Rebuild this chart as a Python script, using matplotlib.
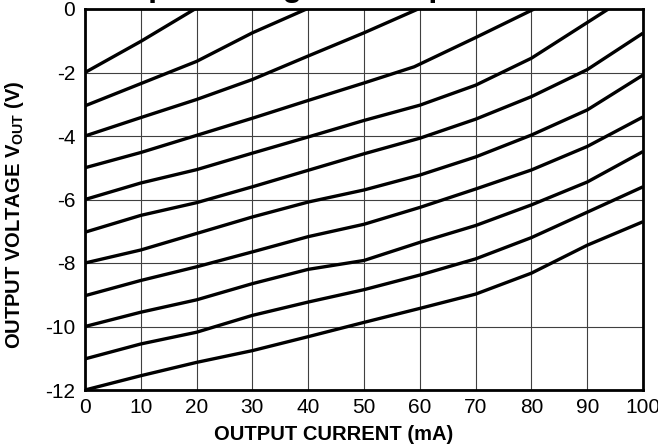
import matplotlib
matplotlib.use("Agg")
import matplotlib.pyplot as plt

plt.rcParams['font.family'] = ['Liberation Sans', 'DejaVu Sans']
plt.rcParams['mathtext.fontset'] = 'custom'
plt.rcParams['mathtext.bf'] = 'Liberation Sans:bold'
plt.rcParams['mathtext.rm'] = 'Liberation Sans'

# datos (corriente en mA, tension en V)
current_a = [0, 10, 19.7]
vout_a = [-2.0, -1.02, 0.0]

current_b = [0, 10, 20, 30, 39.7]
vout_b = [-3.05, -2.35, -1.65, -0.75, 0.0]

current_c = [0, 10, 20, 30, 40, 50, 59.7]
vout_c = [-4.0, -3.42, -2.85, -2.22, -1.48, -0.75, 0.0]

current_d = [0, 10, 20, 30, 40, 50, 59, 70, 80.5]
vout_d = [-5.0, -4.52, -3.98, -3.44, -2.88, -2.33, -1.82, -0.9, 0.0]

current_e = [0, 10, 20, 30, 40, 50, 60, 70, 80, 93.8]
vout_e = [-6.0, -5.48, -5.06, -4.54, -4.03, -3.51, -3.03, -2.4, -1.55, 0.0]

current_full = [0, 10, 20, 30, 40, 50, 60, 70, 80, 90, 100]
vout_f = [-7.03, -6.5, -6.1, -5.6, -5.08, -4.56, -4.07, -3.47, -2.76, -1.91, -0.76]
vout_g = [-8.0, -7.59, -7.07, -6.55, -6.08, -5.7, -5.23, -4.66, -3.97, -3.18, -2.08]
vout_h = [-9.03, -8.55, -8.12, -7.65, -7.17, -6.78, -6.25, -5.67, -5.07, -4.33, -3.4]
vout_i = [-10.0, -9.55, -9.16, -8.65, -8.2, -7.92, -7.35, -6.82, -6.17, -5.45, -4.49]
vout_j = [-11.02, -10.55, -10.18, -9.65, -9.23, -8.84, -8.38, -7.87, -7.2, -6.4, -5.6]
vout_k = [-12.0, -11.55, -11.13, -10.76, -10.32, -9.87, -9.43, -8.98, -8.32, -7.44, -6.7]

x_ticks = [0, 10, 20, 30, 40, 50, 60, 70, 80, 90, 100]
y_ticks = [0, -2, -4, -6, -8, -10, -12]

curvas = [
    (current_a, vout_a), (current_b, vout_b), (current_c, vout_c),
    (current_d, vout_d), (current_e, vout_e),
    (current_full, vout_f), (current_full, vout_g), (current_full, vout_h),
    (current_full, vout_i), (current_full, vout_j), (current_full, vout_k),
]

W, H = 658, 447
fig = plt.figure(figsize=(W / 100, H / 100), dpi=100)
ax = fig.add_axes([85 / W, (H - 390) / H, 558 / W, 381 / H])

for xs, ys in curvas:
    ax.plot(xs, ys, color='black', linewidth=2.4, solid_capstyle='butt', zorder=3)

ax.set_xlim(0, 100)
ax.set_ylim(-12, 0)
ax.set_xticks(x_ticks)
ax.set_yticks(y_ticks)
ax.set_xticklabels([str(v) for v in x_ticks])
ax.set_yticklabels([str(v) for v in y_ticks])
ax.tick_params(length=0, labelsize=15, colors='black')
ax.tick_params(axis='x', pad=6)
ax.tick_params(axis='y', pad=7)
ax.grid(True, color='#404040', linewidth=0.8)
ax.set_axisbelow(True)
for s in ax.spines.values():
    s.set_linewidth(2.0)
    s.set_color('black')

fig.text(334 / W, 1 - 435 / H, 'OUTPUT CURRENT (mA)', fontsize=14.5,
         fontweight='bold', ha='center', va='center')
fig.text(15 / W, 1 - 215 / H, r'OUTPUT VOLTAGE V$_{\mathbf{OUT}}$ (V)', fontsize=14.5,
         fontweight='bold', ha='center', va='center', rotation=90)

# titulo cortado por arriba, solo se ven los trazos bajos
fig.text(93 / W, 1 + 4.5 / H, 'Output Voltage vs Output Current', fontsize=23,
         fontweight='bold', ha='left', va='baseline')

fig.savefig('out.png', dpi=100)
